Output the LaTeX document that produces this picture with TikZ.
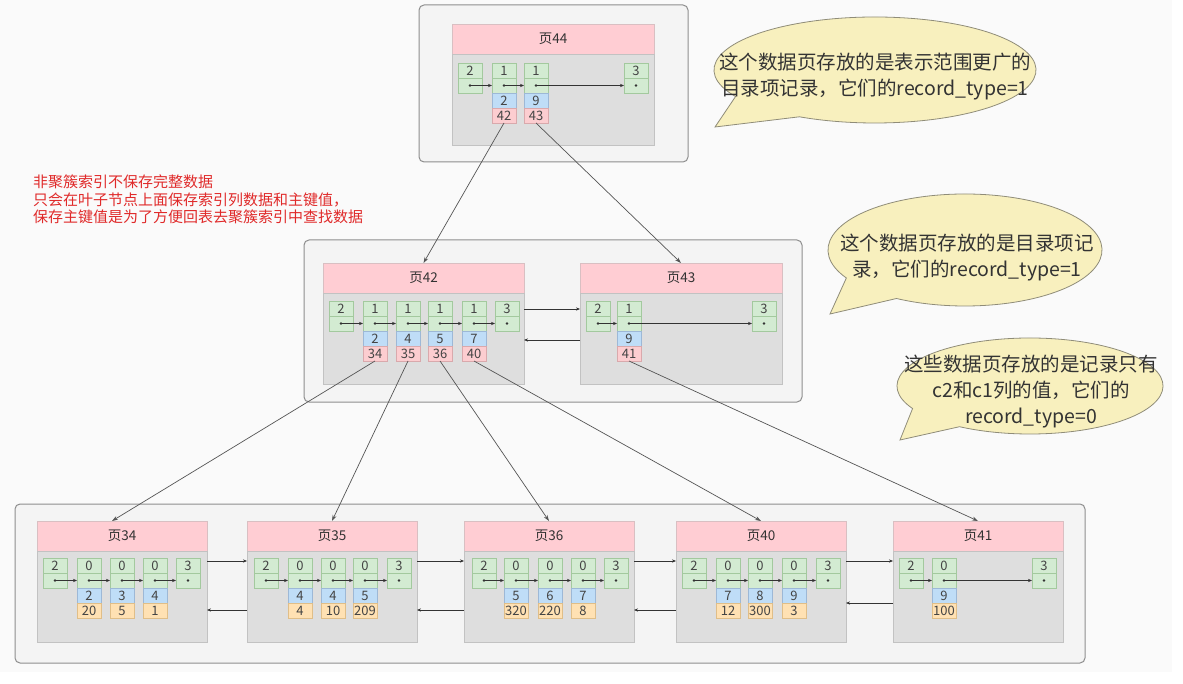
\documentclass[tikz,border=0pt]{standalone}
\usepackage{fontspec}
\setmainfont{Noto Sans CJK SC}
\usetikzlibrary{arrows.meta}
\definecolor{bgc}{HTML}{FAFAFA}
\definecolor{boxfill}{HTML}{F4F4F4}
\definecolor{boxdraw}{HTML}{8E8E8E}
\definecolor{hdrfill}{HTML}{FFCDD3}
\definecolor{hdrdraw}{HTML}{D9BFC2}
\definecolor{bodyfill}{HTML}{DEDEDE}
\definecolor{bodydraw}{HTML}{C2C2C2}
\definecolor{gfill}{HTML}{D3EBD2}
\definecolor{gdraw}{HTML}{A3C99E}
\definecolor{bfill}{HTML}{BFDDF7}
\definecolor{bdraw}{HTML}{9DB8D6}
\definecolor{pfill}{HTML}{FCCDD0}
\definecolor{pdraw}{HTML}{D9A9AC}
\definecolor{ofill}{HTML}{FFE1B3}
\definecolor{odraw}{HTML}{E0BE88}
\definecolor{txt}{HTML}{333333}
\definecolor{celltxt}{HTML}{444444}
\definecolor{arrc}{HTML}{333333}
\definecolor{connc}{HTML}{555555}
\definecolor{callfill}{HTML}{F8F0BE}
\definecolor{calldraw}{HTML}{8F8C78}
\definecolor{redc}{HTML}{E02A2A}
\newcommand{\myfs}[2]{\fontsize{#1}{#2}\selectfont}
\newcommand{\pagebox}[5]{%
  \node[hdr, minimum width=#4pt] (#1) at (#2,#3) {#5};
  \node[pbody, minimum width=#4pt] (#1-body) at (#1.south west) {};}
\newcommand{\gcell}[4]{%
  \node[gcell] (#1) at (#2,#3) {#4};
  \node[gcell] (#1d) at (#1.south west) {};
  \fill[arrc] (#1d.center) circle[radius=1.4pt];}
\newcommand{\kvcell}[4]{%
  \node[bcell] (#1k) at (#1d.south west) {#2};
  \node[#4] (#1v) at (#1k.south west) {#3};}
\newcommand{\reclink}[2]{\draw[parr] (#1d.center) -- (#2d.west);}
\begin{document}
\begin{tikzpicture}[x=1pt,y=-1pt,
  hdr/.style={draw=hdrdraw, fill=hdrfill, minimum height=30pt, inner sep=0pt, outer sep=0pt, anchor=north west, font=\myfs{13.5}{13.5}, text=txt, line width=0.7pt},
  pbody/.style={draw=bodydraw, fill=bodyfill, minimum height=91pt, inner sep=0pt, outer sep=0pt, anchor=north west, line width=0.7pt},
  cellbase/.style={minimum width=24pt, minimum height=15pt, inner sep=0pt, outer sep=0pt, anchor=north west, font=\myfs{13}{13}, text=celltxt, line width=0.6pt},
  gcell/.style={cellbase, draw=gdraw, fill=gfill},
  bcell/.style={cellbase, draw=bdraw, fill=bfill},
  pcell/.style={cellbase, draw=pdraw, fill=pfill},
  ocell/.style={cellbase, draw=odraw, fill=ofill},
  parr/.style={draw=arrc, line width=0.6pt, -{Stealth[length=4pt,width=3.2pt]}},
  conn/.style={draw=connc, line width=0.7pt, -{Stealth[length=6pt,width=4pt]}},
  outer/.style={draw=boxdraw, fill=boxfill, rounded corners=5pt, line width=1pt},
  callout/.style={draw=calldraw, fill=callfill, line width=0.8pt},
  ctext/.style={font=\myfs{19.5}{26}, text=txt, align=center}]
\useasboundingbox (0,0) rectangle (1183,684);
\fill[white] (0,0) rectangle (1183,684);
\fill[bgc] (0,0) rectangle (1172,672);
% outer containers
\draw[outer] (419,5) rectangle (688,162);
\draw[outer] (304,240) rectangle (802,402);
\draw[outer] (15,504) rectangle (1085,663);
% ---- page 44
\pagebox{p44}{452}{24}{202}{页44}
\gcell{p44-1}{458}{63}{2}
\gcell{p44-2}{492}{63}{1}\kvcell{p44-2}{2}{42}{pcell}
\gcell{p44-3}{524}{63}{1}\kvcell{p44-3}{9}{43}{pcell}
\gcell{p44-4}{624}{63}{3}
\reclink{p44-1}{p44-2}\reclink{p44-2}{p44-3}\reclink{p44-3}{p44-4}
% ---- page 42
\pagebox{p42}{323}{263}{201}{页42}
\gcell{p42-1}{329}{301}{2}
\gcell{p42-2}{363}{301}{1}\kvcell{p42-2}{2}{34}{pcell}
\gcell{p42-3}{396}{301}{1}\kvcell{p42-3}{4}{35}{pcell}
\gcell{p42-4}{428}{301}{1}\kvcell{p42-4}{5}{36}{pcell}
\gcell{p42-5}{462}{301}{1}\kvcell{p42-5}{7}{40}{pcell}
\gcell{p42-6}{495}{301}{3}
\reclink{p42-1}{p42-2}\reclink{p42-2}{p42-3}\reclink{p42-3}{p42-4}\reclink{p42-4}{p42-5}\reclink{p42-5}{p42-6}
% ---- page 43
\pagebox{p43}{580}{263}{202}{页43}
\gcell{p43-1}{586}{301}{2}
\gcell{p43-2}{617}{301}{1}\kvcell{p43-2}{9}{41}{pcell}
\gcell{p43-3}{752}{301}{3}
\reclink{p43-1}{p43-2}\reclink{p43-2}{p43-3}
% ---- page 34
\pagebox{p34}{37}{521}{170}{页34}
\gcell{p34-1}{43}{558}{2}
\gcell{p34-2}{77}{558}{0}\kvcell{p34-2}{2}{20}{ocell}
\gcell{p34-3}{110}{558}{0}\kvcell{p34-3}{3}{5}{ocell}
\gcell{p34-4}{143}{558}{0}\kvcell{p34-4}{4}{1}{ocell}
\gcell{p34-5}{176}{558}{3}
\reclink{p34-1}{p34-2}\reclink{p34-2}{p34-3}\reclink{p34-3}{p34-4}\reclink{p34-4}{p34-5}
% ---- page 35
\pagebox{p35}{247}{521}{170}{页35}
\gcell{p35-1}{254}{558}{2}
\gcell{p35-2}{288}{558}{0}\kvcell{p35-2}{4}{4}{ocell}
\gcell{p35-3}{321}{558}{0}\kvcell{p35-3}{4}{10}{ocell}
\gcell{p35-4}{353}{558}{0}\kvcell{p35-4}{5}{209}{ocell}
\gcell{p35-5}{387}{558}{3}
\reclink{p35-1}{p35-2}\reclink{p35-2}{p35-3}\reclink{p35-3}{p35-4}\reclink{p35-4}{p35-5}
% ---- page 36
\pagebox{p36}{464}{521}{170}{页36}
\gcell{p36-1}{472}{558}{2}
\gcell{p36-2}{504}{558}{0}\kvcell{p36-2}{5}{320}{ocell}
\gcell{p36-3}{538}{558}{0}\kvcell{p36-3}{6}{220}{ocell}
\gcell{p36-4}{571}{558}{0}\kvcell{p36-4}{7}{8}{ocell}
\gcell{p36-5}{604}{558}{3}
\reclink{p36-1}{p36-2}\reclink{p36-2}{p36-3}\reclink{p36-3}{p36-4}\reclink{p36-4}{p36-5}
% ---- page 40
\pagebox{p40}{676}{521}{170}{页40}
\gcell{p40-1}{682}{558}{2}
\gcell{p40-2}{716}{558}{0}\kvcell{p40-2}{7}{12}{ocell}
\gcell{p40-3}{748}{558}{0}\kvcell{p40-3}{8}{300}{ocell}
\gcell{p40-4}{782}{558}{0}\kvcell{p40-4}{9}{3}{ocell}
\gcell{p40-5}{816}{558}{3}
\reclink{p40-1}{p40-2}\reclink{p40-2}{p40-3}\reclink{p40-3}{p40-4}\reclink{p40-4}{p40-5}
% ---- page 41
\pagebox{p41}{893}{521}{170}{页41}
\gcell{p41-1}{899}{558}{2}
\gcell{p41-2}{932}{558}{0}\kvcell{p41-2}{9}{100}{ocell}
\gcell{p41-3}{1032}{558}{3}
\reclink{p41-1}{p41-2}\reclink{p41-2}{p41-3}
% ---- sibling links
\draw[parr] ([yshift=-16pt]p42-body.north east) -- ([yshift=-16pt]p43-body.north west);
\draw[parr] ([yshift=-47pt]p43-body.north west) -- ([yshift=-47pt]p42-body.north east);
\draw[parr] ([yshift=-10pt]p34-body.north east) -- ([yshift=-10pt]p35-body.north west);
\draw[parr] ([yshift=-59pt]p35-body.north west) -- ([yshift=-59pt]p34-body.north east);
\draw[parr] ([yshift=-10pt]p35-body.north east) -- ([yshift=-10pt]p36-body.north west);
\draw[parr] ([yshift=-59pt]p36-body.north west) -- ([yshift=-59pt]p35-body.north east);
\draw[parr] ([yshift=-10pt]p36-body.north east) -- ([yshift=-10pt]p40-body.north west);
\draw[parr] ([yshift=-59pt]p40-body.north west) -- ([yshift=-59pt]p36-body.north east);
\draw[parr] ([yshift=-10pt]p40-body.north east) -- ([yshift=-10pt]p41-body.north west);
\draw[parr] ([yshift=-52pt]p41-body.north west) -- ([yshift=-52pt]p40-body.north east);
% ---- parent-child connectors
\draw[conn] (p44-2v.south) -- (p42.north);
\draw[conn] (p44-3v.south) -- (p43.north);
\draw[conn] (p42-2v.south) -- ([xshift=-10pt]p34.north);
\draw[conn] (p42-3v.south) -- (p35.north);
\draw[conn] (p42-4v.south) -- (p36.north);
\draw[conn] (p42-5v.south) -- (p40.north);
\draw[conn] (p43-2v.south) -- (p41.north);
% ---- callouts
\draw[callout] (875,70) ++(150:161 and 53) arc[start angle=150, end angle=478, x radius=161, y radius=53] -- (715,127) -- cycle;
\node[ctext] (c1) at (875,77) {这个数据页存放的是表示范围更广的\\目录项记录，它们的record\_type=1};
\draw[callout] (965,250) ++(150:137 and 56) arc[start angle=150, end angle=480, x radius=137, y radius=56] -- (830,314) -- cycle;
\node[ctext] (c2) at (967,258) {这个数据页存放的是目录项记\\录，它们的record\_type=1};
\draw[callout] (1030,386) ++(152:133 and 48) arc[start angle=152, end angle=482, x radius=133, y radius=48] -- (900,440) -- cycle;
\node[ctext] (c3) at (1031,392) {这些数据页存放的是记录只有\\c2和c1列的值，它们的\\record\_type=0};
% ---- note
\node[anchor=north west, align=left, font=\myfs{15}{17.5}, text=redc, inner sep=0pt] (note) at (33,175) {非聚簇索引不保存完整数据\\只会在叶子节点上面保存索引列数据和主键值，\\保存主键值是为了方便回表去聚簇索引中查找数据};
\end{tikzpicture}
\end{document}
